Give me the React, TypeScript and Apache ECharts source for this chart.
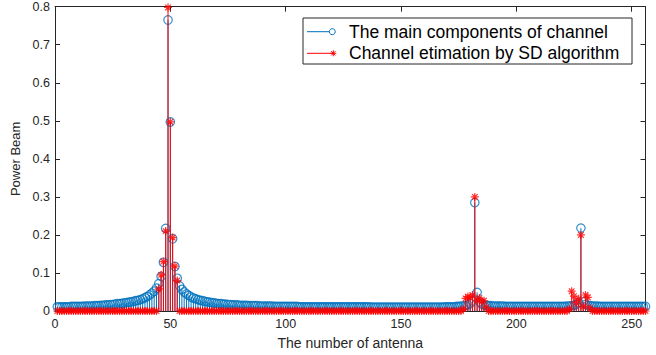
import React, { useEffect, useRef } from 'react';
import * as echarts from 'echarts';

// antenna index 1..256
const antennaIndex: number[] = Array.from({ length: 256 }, (_, i) => i + 1);

// main components of channel (blue stems, circles)
const mainComponents: number[] = [
  0.011,0.011,0.011,0.011,0.011,0.011,0.012,0.012,0.012,0.012,0.012,0.012,0.013,0.013,0.013,0.013,
  0.014,0.014,0.014,0.015,0.015,0.016,0.016,0.017,0.017,0.018,0.019,0.019,0.020,0.021,0.022,0.023,
  0.024,0.025,0.027,0.028,0.030,0.032,0.035,0.038,0.042,0.047,0.052,0.060,0.072,0.091,0.128,0.217,
  0.765,0.497,0.190,0.117,0.086,0.066,0.057,0.050,0.045,0.041,0.037,0.034,0.032,0.030,0.028,0.027,
  0.025,0.024,0.023,0.022,0.021,0.020,0.019,0.019,0.018,0.018,0.017,0.017,0.016,0.016,0.016,0.015,
  0.015,0.015,0.015,0.014,0.014,0.014,0.014,0.014,0.013,0.013,0.013,0.013,0.013,0.013,0.012,0.012,
  0.012,0.012,0.012,0.012,0.012,0.012,0.012,0.012,0.012,0.011,0.011,0.011,0.011,0.011,0.011,0.011,
  0.011,0.011,0.011,0.011,0.011,0.011,0.011,0.011,0.011,0.011,0.011,0.011,0.011,0.011,0.011,0.011,
  0.011,0.011,0.011,0.011,0.011,0.011,0.011,0.011,0.010,0.010,0.010,0.010,0.010,0.010,0.010,0.010,
  0.010,0.010,0.010,0.010,0.010,0.010,0.010,0.010,0.010,0.010,0.010,0.010,0.010,0.010,0.010,0.010,
  0.010,0.010,0.010,0.010,0.010,0.010,0.010,0.010,0.011,0.011,0.011,0.011,0.011,0.012,0.012,0.013,
  0.013,0.014,0.016,0.019,0.027,0.285,0.049,0.024,0.018,0.016,0.015,0.014,0.014,0.013,0.013,0.013,
  0.013,0.013,0.012,0.012,0.012,0.012,0.012,0.012,0.012,0.012,0.012,0.012,0.012,0.012,0.012,0.012,
  0.012,0.012,0.012,0.012,0.012,0.012,0.012,0.012,0.012,0.012,0.012,0.012,0.012,0.013,0.013,0.014,
  0.015,0.017,0.022,0.218,0.024,0.017,0.015,0.014,0.013,0.013,0.013,0.012,0.012,0.012,0.012,0.012,
  0.012,0.012,0.012,0.012,0.012,0.012,0.012,0.012,0.012,0.012,0.012,0.012,0.012,0.012,0.012,0.012,
];

// channel estimation by SD algorithm (red stems, asterisks)
const sdEstimation: number[] = [
  0,0,0,0,0,0,0,0,0,0,0,0,0,0,0,0,
  0,0,0,0,0,0,0,0,0,0,0,0,0,0,0,0,
  0,0,0,0,0,0,0,0,0,0,0,0,0.058,0.095,0.130,0.210,
  0.798,0.497,0.193,0.118,0.080,0,0,0,0,0,0,0,0,0,0,0,
  0,0,0,0,0,0,0,0,0,0,0,0,0,0,0,0,
  0,0,0,0,0,0,0,0,0,0,0,0,0,0,0,0,
  0,0,0,0,0,0,0,0,0,0,0,0,0,0,0,0,
  0,0,0,0,0,0,0,0,0,0,0,0,0,0,0,0,
  0,0,0,0,0,0,0,0,0,0,0,0,0,0,0,0,
  0,0,0,0,0,0,0,0,0,0,0,0,0,0,0,0,
  0,0,0,0,0,0,0,0,0,0,0,0,0,0,0,0,
  0.005,0.033,0.038,0.036,0.042,0.300,0.028,0.034,0.025,0.027,0.010,0,0,0,0,0,
  0,0,0,0,0,0,0,0,0,0,0,0,0,0,0,0,
  0,0,0,0,0,0,0,0,0,0,0,0,0,0,0.005,0.052,
  0.039,0.022,0.032,0.200,0.012,0.042,0.036,0.008,0,0,0,0,0,0,0,0,
  0,0,0,0,0,0,0,0,0,0,0,0,0,0,0,0,
];

const xTicks: number[] = [0, 50, 100, 150, 200, 250];
const legendNames: string[] = ['The main components of channel', 'Channel etimation by SD algorithm'];
const seriesColors: string[] = ['#0072BD', '#FF0000'];

const FONT = '"Liberation Sans", Arial, Helvetica, sans-serif';
const AXIS_COLOR = '#262626';

function stemSeries(name: string, values: number[], color: string, z: number) {
  return {
    type: 'custom',
    name,
    z,
    silent: true,
    clip: true,
    xAxisIndex: 0,
    yAxisIndex: 0,
    encode: { x: 0, y: 1 },
    data: antennaIndex.map((x, i) => [x, values[i]]),
    renderItem: (_params: any, api: any) => {
      const x = api.value(0);
      const y = api.value(1);
      const p0 = api.coord([x, 0]);
      const p1 = api.coord([x, y]);
      return {
        type: 'line',
        shape: { x1: p0[0], y1: p0[1], x2: p1[0], y2: p1[1] },
        style: { stroke: color, lineWidth: 1 },
      };
    },
  };
}

const STAR = 'path://M10,0L10,20M0,10L20,10M3,3L17,17M3,17L17,3';

export default function App() {
  const ref = useRef<HTMLDivElement>(null);
  useEffect(() => {
    if (!ref.current) return;
    const chart = echarts.init(ref.current, undefined, { renderer: 'svg' });
    const baseX = {
      type: 'value',
      min: 0,
      max: 256,
      interval: 50,
      splitLine: { show: false },
      axisLine: { show: true, onZero: false, lineStyle: { color: AXIS_COLOR, width: 1 } },
      axisTick: { show: true, inside: true, length: 5, lineStyle: { color: AXIS_COLOR } },
    };
    const baseY = {
      type: 'value',
      min: 0,
      max: 0.8,
      interval: 0.1,
      splitLine: { show: false },
      axisLine: { show: true, onZero: false, lineStyle: { color: AXIS_COLOR, width: 1 } },
      axisTick: { show: true, inside: true, length: 5, lineStyle: { color: AXIS_COLOR } },
    };
    const legendX = 303;
    const legendY = 18;
    const rowY = [31.7, 53.3];
    chart.setOption({
      animation: false,
      backgroundColor: '#ffffff',
      grid: { left: 55, right: 10.5, top: 6.7, bottom: 40, containLabel: false },
      xAxis: [
        {
          ...baseX,
          position: 'bottom',
          name: 'The number of antenna',
          nameLocation: 'middle',
          nameGap: 25,
          nameTextStyle: { fontFamily: FONT, fontSize: 14, color: AXIS_COLOR },
          axisLabel: {
            fontFamily: FONT,
            fontSize: 12.5,
            color: AXIS_COLOR,
            margin: 6,
            formatter: (v: number) => (xTicks.indexOf(v) >= 0 ? String(v) : ''),
          },
        },
        { ...baseX, position: 'top', axisLabel: { show: false } },
      ],
      yAxis: [
        {
          ...baseY,
          position: 'left',
          name: 'Power Beam',
          nameLocation: 'middle',
          nameGap: 27,
          nameTextStyle: { fontFamily: FONT, fontSize: 13, color: AXIS_COLOR },
          axisLabel: { fontFamily: FONT, fontSize: 12.5, color: AXIS_COLOR, margin: 5 },
        },
        { ...baseY, position: 'right', axisLabel: { show: false } },
      ],
      series: [
        stemSeries('stem-main', mainComponents, seriesColors[0], 2),
        {
          type: 'scatter',
          name: legendNames[0],
          z: 3,
          silent: true,
          xAxisIndex: 0,
          yAxisIndex: 0,
          symbol: 'circle',
          symbolSize: 8.5,
          itemStyle: { color: 'rgba(0,0,0,0)', borderColor: seriesColors[0], borderWidth: 1.2 },
          data: antennaIndex.map((x, i) => [x, mainComponents[i]]),
        },
        stemSeries('stem-sd', sdEstimation, seriesColors[1], 4),
        {
          type: 'scatter',
          name: legendNames[1],
          z: 5,
          silent: true,
          xAxisIndex: 0,
          yAxisIndex: 0,
          symbol: STAR,
          symbolSize: 8,
          itemStyle: { color: 'rgba(0,0,0,0)', borderColor: seriesColors[1], borderWidth: 1.2 },
          data: antennaIndex.map((x, i) => [x, sdEstimation[i]]),
        },
      ],
      graphic: [
        {
          type: 'rect',
          z: 100,
          shape: { x: legendX, y: legendY, width: 329, height: 46 },
          style: { fill: '#ffffff', stroke: AXIS_COLOR, lineWidth: 1 },
        },
        {
          type: 'line',
          z: 101,
          shape: { x1: 307, y1: rowY[0], x2: 330, y2: rowY[0] },
          style: { stroke: seriesColors[0], lineWidth: 1 },
        },
        {
          type: 'circle',
          z: 102,
          shape: { cx: 332.3, cy: rowY[0], r: 3 },
          style: { fill: '#ffffff', stroke: seriesColors[0], lineWidth: 1 },
        },
        {
          type: 'text',
          z: 102,
          x: 349,
          y: rowY[0],
          style: { text: legendNames[0], fontFamily: FONT, fontSize: 17.5, fill: '#000000', verticalAlign: 'middle' },
        },
        {
          type: 'line',
          z: 101,
          shape: { x1: 307, y1: rowY[1], x2: 333, y2: rowY[1] },
          style: { stroke: seriesColors[1], lineWidth: 1 },
        },
        {
          type: 'polyline',
          z: 102,
          shape: { points: [[333.3, rowY[1] - 3], [333.3, rowY[1] + 3]] },
          style: { stroke: seriesColors[1], lineWidth: 1, fill: 'none' },
        },
        {
          type: 'polyline',
          z: 102,
          shape: { points: [[330.3, rowY[1]], [336.3, rowY[1]]] },
          style: { stroke: seriesColors[1], lineWidth: 1, fill: 'none' },
        },
        {
          type: 'polyline',
          z: 102,
          shape: { points: [[331.2, rowY[1] - 2.1], [335.4, rowY[1] + 2.1]] },
          style: { stroke: seriesColors[1], lineWidth: 1, fill: 'none' },
        },
        {
          type: 'polyline',
          z: 102,
          shape: { points: [[331.2, rowY[1] + 2.1], [335.4, rowY[1] - 2.1]] },
          style: { stroke: seriesColors[1], lineWidth: 1, fill: 'none' },
        },
        {
          type: 'text',
          z: 102,
          x: 349,
          y: rowY[1],
          style: { text: legendNames[1], fontFamily: FONT, fontSize: 17.5, fill: '#000000', verticalAlign: 'middle' },
        },
      ],
    });
    return () => chart.dispose();
  }, []);
  return (
    <div
      ref={ref}
      style={{ position: 'absolute', left: 0, top: 0, width: 656, height: 355, background: '#fff' }}
    />
  );
}
